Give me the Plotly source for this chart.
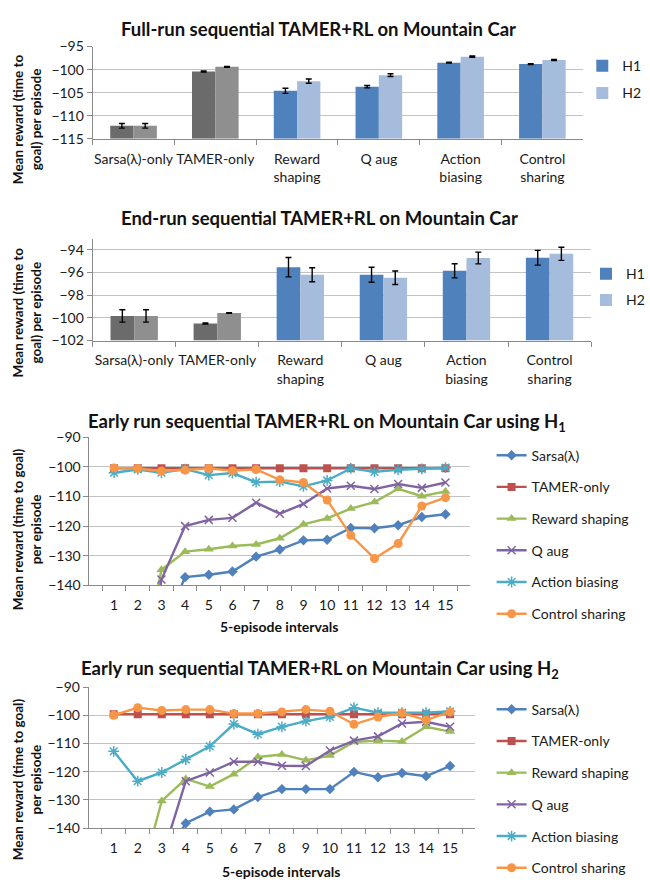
import plotly.graph_objects as go

# ---------------- data ----------------
categories = ["Sarsa(λ)-only", "TAMER-only", "Reward<br>shaping", "Q aug", "Action<br>biasing", "Control<br>sharing"]

full_h1 = [-112.2, -100.4, -104.6, -103.7, -98.5, -98.8]
full_h1_err = [0.5, 0.1, 0.55, 0.25, 0.1, 0.1]
full_h2 = [-112.2, -99.4, -102.5, -101.2, -97.2, -97.9]
full_h2_err = [0.5, 0.1, 0.45, 0.3, 0.15, 0.12]

end_h1 = [-99.83, -100.5, -95.53, -96.2, -95.85, -94.7]
end_h1_err = [0.55, 0.05, 0.85, 0.66, 0.62, 0.65]
end_h2 = [-99.83, -99.57, -96.2, -96.46, -94.72, -94.35]
end_h2_err = [0.55, 0.03, 0.62, 0.6, 0.52, 0.58]

intervals = ["1", "2", "3", "4", "5", "6", "7", "8", "9", "10", "11", "12", "13", "14", "15"]
series_names = ["Sarsa(λ)", "TAMER-only", "Reward shaping", "Q aug", "Action biasing", "Control sharing"]

sarsa_h1 = [-190, -175, -156, -137.2, -136.4, -135.3, -130.3, -127.9, -124.8, -124.6, -120.6, -120.7, -119.7, -116.9, -116.0]
tamer_h1 = [-100.5, -100.5, -100.5, -100.5, -100.5, -100.5, -100.5, -100.5, -100.5, -100.5, -100.5, -100.5, -100.5, -100.5, -100.5]
reward_h1 = [-190, -175, -134.7, -128.6, -127.8, -126.7, -126.2, -124.1, -119.4, -117.4, -114.1, -111.9, -107.4, -109.9, -108.3]
qaug_h1 = [-200, -190, -138.0, -120.0, -117.9, -117.2, -112.1, -115.8, -112.5, -107.3, -106.4, -107.5, -105.8, -107.1, -105.3]
action_h1 = [-102.0, -100.9, -102.0, -100.8, -102.8, -102.1, -105.2, -105.0, -106.6, -104.6, -100.55, -101.7, -101.0, -100.7, -100.3]
control_h1 = [-100.4, -100.55, -101.4, -101.1, -100.55, -101.3, -100.9, -104.4, -105.3, -111.2, -123.1, -130.9, -125.9, -113.2, -110.4]

sarsa_h2 = [-185, -170, -152, -138.3, -134.2, -133.4, -129.0, -126.2, -126.2, -126.2, -120.1, -122.0, -120.5, -121.6, -118.0]
tamer_h2 = [-99.6, -99.6, -99.6, -99.6, -99.6, -99.6, -99.6, -99.6, -99.6, -99.6, -99.6, -99.6, -99.6, -99.6, -99.6]
reward_h2 = [-185, -162, -130.4, -122.6, -125.3, -120.9, -114.8, -113.9, -116.0, -114.3, -109.5, -109.0, -109.3, -104.1, -105.8]
qaug_h2 = [-190, -175, -150.7, -123.4, -120.3, -116.5, -116.5, -117.9, -118.0, -112.5, -109.0, -107.5, -102.9, -102.3, -104.1]
action_h2 = [-112.8, -123.4, -120.3, -115.7, -111.0, -103.1, -106.7, -104.1, -102.1, -100.6, -97.3, -99.1, -99.1, -99.1, -98.6]
control_h2 = [-100.0, -97.3, -98.3, -98.0, -98.0, -99.4, -99.4, -98.8, -98.0, -98.6, -103.2, -100.6, -99.2, -101.7, -98.8]

# ---------------- styling ----------------
W, H = 650, 888
FONT = "Lato, Carlito, Calibri, sans-serif"
GRAY_H1, GRAY_H2 = "#6b6b6b", "#8f8f8f"
BLUE_H1, BLUE_H2 = "#4f81bd", "#a6bcdc"
LINE_COLORS = ["#4f81bd", "#c0504d", "#9bbb59", "#8064a2", "#4bacc6", "#f79646"]
SYMBOLS = ["diamond", "square", "triangle-up", "x-thin", "asterisk", "circle"]
SIZES = [8, 8, 9, 8, 9, 9]
GRID = "#c3c3c3"
AXLINE = "#8a8a8a"

def px_x(p):
    return p / W

def px_y(p):
    return 1 - p / H

fig = go.Figure()

# ---------------- bar panels ----------------
def add_bars(h1, h1e, h2, h2e, ymin, xa, ya, leg):
    for vals, errs, color_g, color_b, og, name in [
        (h1, h1e, GRAY_H1, BLUE_H1, "a", "H1"),
        (h2, h2e, GRAY_H2, BLUE_H2, "b", "H2"),
    ]:
        for sl, col, show in [(slice(0, 2), color_g, False), (slice(2, 6), color_b, True)]:
            fig.add_trace(go.Bar(
                x=categories[sl],
                y=[v - ymin for v in vals[sl]],
                base=ymin,
                marker=dict(color=col, line=dict(width=0)),
                error_y=dict(type="data", array=errs[sl], color="black", thickness=1.4, width=3),
                offsetgroup=og, name=name, legendgroup=name,
                showlegend=show, legend=leg, xaxis=xa, yaxis=ya,
                hoverinfo="skip",
            ))

add_bars(full_h1, full_h1_err, full_h2, full_h2_err, -115, "x", "y", "legend")
add_bars(end_h1, end_h1_err, end_h2, end_h2_err, -102, "x2", "y2", "legend2")

# ---------------- line panels ----------------
def add_lines(series, xa, ya, leg):
    for i, (name, vals) in enumerate(zip(series_names, series)):
        open_sym = SYMBOLS[i] in ("x-thin", "asterisk")
        fig.add_trace(go.Scatter(
            x=intervals, y=vals, mode="lines+markers", name=name,
            line=dict(color=LINE_COLORS[i], width=2.4),
            marker=dict(symbol=SYMBOLS[i], size=SIZES[i], color=LINE_COLORS[i],
                        line=dict(color=LINE_COLORS[i], width=1.5 if open_sym else 0)),
            legend=leg, legendgroup=name + leg, xaxis=xa, yaxis=ya,
            hoverinfo="skip",
        ))

add_lines([sarsa_h1, tamer_h1, reward_h1, qaug_h1, action_h1, control_h1], "x3", "y3", "legend3")
add_lines([sarsa_h2, tamer_h2, reward_h2, qaug_h2, action_h2, control_h2], "x4", "y4", "legend4")

# ---------------- axes ----------------
tickfont = dict(family=FONT, size=14, color="#1a1a1a")

def xaxis_cfg(dom, anchor):
    return dict(domain=dom, anchor=anchor, type="category", showline=True, linecolor=AXLINE,
                linewidth=1, ticks="outside", tickson="boundaries", ticklen=5, tickcolor=AXLINE,
                showgrid=False, tickfont=tickfont, tickangle=0, ticklabelstandoff=7,
                fixedrange=True)

def yaxis_cfg(dom, anchor, rng, dtick):
    return dict(domain=dom, anchor=anchor, range=rng, dtick=dtick, showline=True, linecolor=AXLINE,
                linewidth=1, ticks="outside", ticklen=5, tickcolor=AXLINE, showgrid=True,
                gridcolor=GRID, gridwidth=1, zeroline=False, tickfont=tickfont, fixedrange=True)

layout = dict(
    width=W, height=H, margin=dict(l=0, r=0, t=0, b=0),
    paper_bgcolor="white", plot_bgcolor="white",
    font=dict(family=FONT, size=14, color="#1a1a1a"),
    barmode="group", bargap=0.43, bargroupgap=0,
    xaxis=xaxis_cfg([px_x(95), px_x(598)], "y"),
    yaxis=yaxis_cfg([px_y(132.3), px_y(38.3)], "x", [-115, -95], 5),
    xaxis2=xaxis_cfg([px_x(95), px_x(606)], "y2"),
    yaxis2=yaxis_cfg([px_y(338), px_y(234)], "x2", [-102, -93], 2),
    xaxis3=xaxis_cfg([px_x(91.7), px_x(482)], "y3"),
    yaxis3=yaxis_cfg([px_y(587.7), px_y(436.5)], "x3", [-140, -90], 10),
    xaxis4=xaxis_cfg([px_x(91), px_x(487)], "y4"),
    yaxis4=yaxis_cfg([px_y(835), px_y(691.3)], "x4", [-140, -90], 10),
)

def legend_cfg(x, y, gap):
    return dict(x=px_x(x), y=px_y(y), xanchor="left", yanchor="top", bgcolor="rgba(0,0,0,0)",
                font=dict(family=FONT, size=14, color="#1a1a1a"), traceorder="grouped",
                tracegroupgap=gap, itemclick=False, itemdoubleclick=False)

layout["legend"] = legend_cfg(597, 42, 6)
layout["legend2"] = legend_cfg(601, 254, 5)
layout["legend3"] = legend_cfg(504, 439, 10.5)
layout["legend4"] = legend_cfg(504, 698, 10.5)

def ann(text, x, y, size, bold=True, angle=0):
    t = f"<b>{text}</b>" if bold else text
    return dict(text=t, x=px_x(x), y=px_y(y), xref="paper", yref="paper", showarrow=False,
                xanchor="center", yanchor="middle", textangle=angle,
                font=dict(family=FONT, size=size, color="#111111"))

layout["annotations"] = [
    ann("Full-run sequential TAMER+RL on Mountain Car", 327, 20, 18.5),
    ann("End-run sequential TAMER+RL on Mountain Car", 328, 213, 18.5),
    ann("Early run sequential TAMER+RL on Mountain Car using H<sub>1</sub>", 335, 422, 18.5),
    ann("Early run sequential TAMER+RL on Mountain Car using H<sub>2</sub>", 328, 673, 18.5),
    ann("Mean reward (time to<br>goal) per episode", 28, 112, 13.5, angle=-90),
    ann("Mean reward (time to<br>goal) per episode", 28, 309, 13.5, angle=-90),
    ann("Mean reward (time to goal)<br>per episode", 28, 530, 13.5, angle=-90),
    ann("Mean reward (time to goal)<br>per episode", 28, 785, 13.5, angle=-90),
    ann("5-episode intervals", 287, 630, 14),
    ann("5-episode intervals", 289, 879, 14),
]

fig.update_layout(**layout)
fig.write_html(
    "out.html",
    config={"displayModeBar": False},
    post_script="document.body.style.margin='0px'; document.body.style.overflow='hidden';",
)
